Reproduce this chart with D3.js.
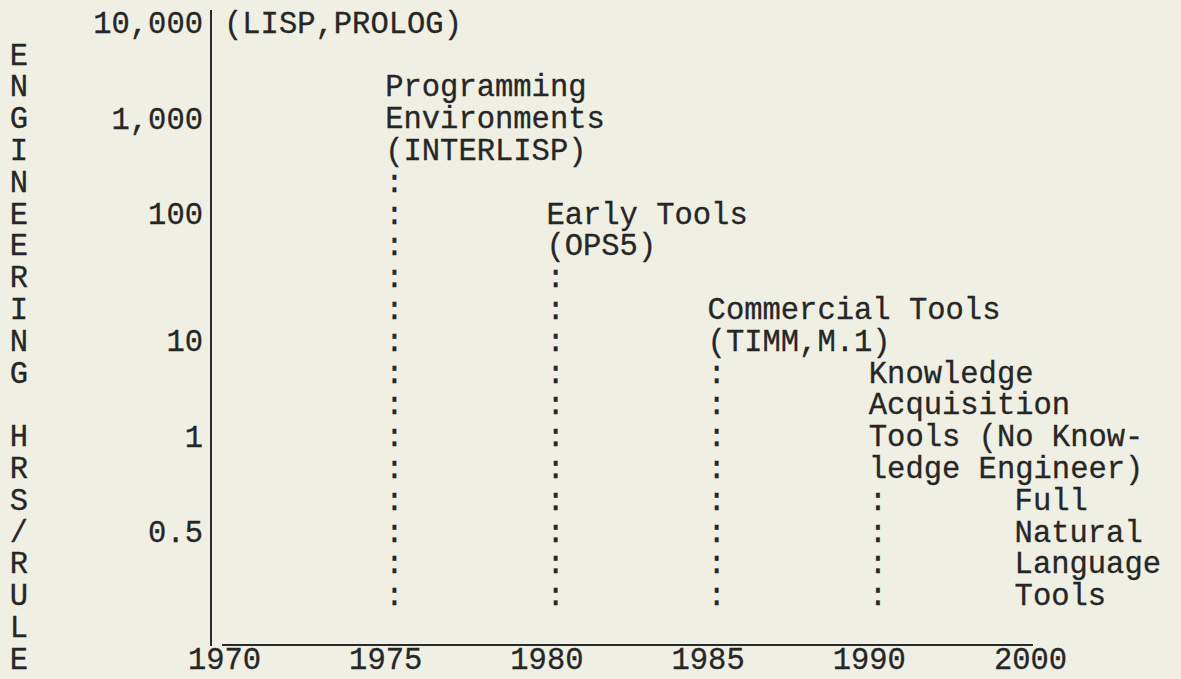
<!DOCTYPE html>
<html>
<head>
<meta charset="utf-8">
<script src="https://cdn.jsdelivr.net/npm/d3@7"></script>
<style>
  html, body { margin: 0; padding: 0; background: #efefe3; }
  svg { display: block; }
  text { font-family: "Liberation Mono", "Courier New", monospace; fill: #262626; stroke: #262626; stroke-width: 0.3px; }
</style>
</head>
<body>
<div id="chart"></div>
<script>
// chart data
var years = ["1970", "1975", "1980", "1985", "1990", "2000"];
var hrsTicks = [10000, 1000, 100, 10, 1, 0.5];
var yTitle = "ENGINEERING HRS/RULE";

// era labels (one text line per entry), the year they sit at,
// the typed line they start on, and whether a ":" leader runs down
var eraYears = ["1970", "1975", "1980", "1985", "1990", "2000"];
var eraLabels = [
    ["(LISP,PROLOG)"],
    ["Programming", "Environments", "(INTERLISP)"],
    ["Early Tools", "(OPS5)"],
    ["Commercial Tools", "(TIMM,M.1)"],
    ["Knowledge", "Acquisition", "Tools (No Know-", "ledge Engineer)"],
    ["Full", "Natural", "Language", "Tools"]
];
var eraStartLine = [0, 2, 6, 9, 11, 15];
var eraLeader = [false, true, true, true, true, true];

// layout
var W = 1181, H = 679;
var fontSize = 30.5;
var charW = fontSize * 0.6;
var baseDy = "0.29em";
var lastLeaderRow = 18;
var tickRows = [0, 3, 6, 10, 13, 16];

var svg = d3.select("#chart").append("svg")
    .attr("width", W)
    .attr("height", H)
    .attr("font-size", fontSize);

// typed rows of the page
var rowY = d3.scaleLinear().domain([0, 20]).range([24, 660]);

// hours per rule, log steps placed on the typed rows
var y = d3.scaleLog()
    .domain(hrsTicks)
    .range(tickRows.map(rowY));

var x = d3.scalePoint()
    .domain(years)
    .range([224, 1030]);

// y axis labels
var yAxis = svg.append("g")
    .attr("transform", "translate(203,0)")
    .call(d3.axisLeft(y).tickValues(hrsTicks).tickFormat(d3.format(",")).tickSize(0).tickPadding(0));
yAxis.select(".domain").remove();
yAxis.selectAll("text")
    .attr("font-size", fontSize)
    .attr("x", 0)
    .attr("dy", baseDy);
yAxis.attr("font-family", null).attr("font-size", null);

// x axis labels
var xAxis = svg.append("g")
    .attr("transform", "translate(0," + rowY(20) + ")")
    .call(d3.axisBottom(x).tickSize(0).tickPadding(0));
xAxis.select(".domain").remove();
xAxis.selectAll("text")
    .attr("font-size", fontSize)
    .attr("y", 0)
    .attr("dy", baseDy);
xAxis.attr("font-family", null).attr("font-size", null);

// axis lines
svg.append("line")
    .attr("x1", 211).attr("x2", 211)
    .attr("y1", rowY(0) - 14).attr("y2", rowY(19.5) + 2)
    .style("stroke", "#2a2a2a")
    .style("stroke-width", 2);

svg.append("line")
    .attr("x1", x(years[0]) - 2).attr("x2", x(years[years.length - 1]) + 3)
    .attr("y1", rowY(19.5) + 1).attr("y2", rowY(19.5) + 1)
    .style("stroke", "#2a2a2a")
    .style("stroke-width", 2);

// vertical title, one letter per typed row
svg.append("g")
    .selectAll("text")
    .data(yTitle.split(""))
    .enter().append("text")
    .attr("x", 19)
    .attr("y", function(d, i) { return rowY(i + 1); })
    .attr("dy", baseDy)
    .attr("text-anchor", "middle")
    .text(function(d) { return d; });

// era labels and ":" leaders
eraLabels.forEach(function(lines, i) {
    var longest = d3.max(lines, function(l) { return l.length; });
    var left = Math.min(x(eraYears[i]), W - 20 - longest * charW);
    var g = svg.append("g").attr("class", "era");

    g.selectAll("text.lbl")
        .data(lines)
        .enter().append("text")
        .attr("class", "lbl")
        .attr("x", left)
        .attr("y", function(d, j) { return rowY(eraStartLine[i] + j); })
        .attr("dy", baseDy)
        .attr("xml:space", "preserve")
        .text(function(d) { return d; });

    if (eraLeader[i]) {
        var rows = d3.range(eraStartLine[i] + lines.length, lastLeaderRow + 1);
        g.selectAll("text.dot")
            .data(rows)
            .enter().append("text")
            .attr("class", "dot")
            .attr("x", left)
            .attr("y", function(d) { return rowY(d); })
            .attr("dy", baseDy)
            .text(":");
    }
});
</script>
</body>
</html>
